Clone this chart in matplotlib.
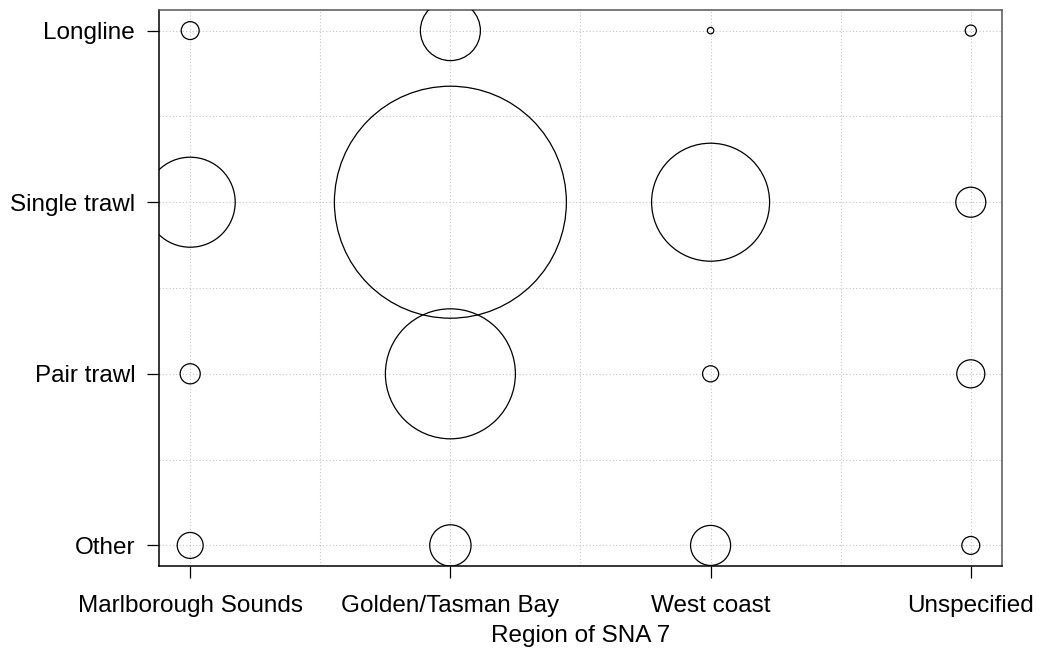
import numpy as np
import matplotlib
matplotlib.use('Agg')
from matplotlib import pyplot as plt

plt.rcParams['font.family'] = ['Liberation Sans', 'DejaVu Sans']

# Regions (x) and methods (y, bottom to top)
regions = ['Marlborough Sounds', 'Golden/Tasman Bay', 'West coast', 'Unspecified']
methods = ['Other', 'Pair trawl', 'Single trawl', 'Longline']

# Percentage of catch by method for each region
marlborough = [0.65, 0.39, 7.83, 0.31]
golden_tasman = [1.65, 16.33, 52.0, 3.48]
west_coast = [1.55, 0.25, 13.45, 0.04]
unspecified = [0.31, 0.76, 0.87, 0.12]

catch = np.array([marlborough, golden_tasman, west_coast, unspecified])

fig = plt.figure(figsize=(10.39, 6.5), dpi=100)
ax = fig.add_axes([0.1530, 0.1292, 0.8114, 0.8554])

xi, yi = np.meshgrid(np.arange(len(regions)), np.arange(len(methods)), indexing='ij')
size_scale = 536.5  # points^2 per percent
ax.scatter(xi.ravel(), yi.ravel(), s=catch.ravel() * size_scale,
           facecolors='none', edgecolors='black', linewidths=0.9, zorder=3)

ax.set_xlim(-0.12, 3.12)
ax.set_ylim(-0.12, 3.12)

ax.set_xticks(range(len(regions)))
ax.set_xticklabels(regions)
ax.set_yticks(range(len(methods)))
ax.set_yticklabels(methods)
ax.set_xticks(np.arange(0.5, 3, 1), minor=True)
ax.set_yticks(np.arange(0.5, 3, 1), minor=True)
ax.tick_params(which='major', length=8.6, width=0.9, labelsize=17.5, color='black')
ax.tick_params(axis='x', which='major', pad=12)
ax.tick_params(axis='y', which='major', pad=8.5)
ax.tick_params(which='minor', length=0)

ax.grid(True, which='both', color='#c4c4c4', linestyle=(0, (1, 2)), linewidth=0.8, zorder=0)
ax.set_axisbelow(True)

for side in ['left', 'bottom']:
    ax.spines[side].set_color('black')
    ax.spines[side].set_linewidth(1.1)
for side in ['top', 'right']:
    ax.spines[side].set_color('#555555')
    ax.spines[side].set_linewidth(1.1)

ax.set_xlabel('Region of SNA 7', fontsize=17.5, labelpad=6)

fig.savefig('out.png', dpi=100)
